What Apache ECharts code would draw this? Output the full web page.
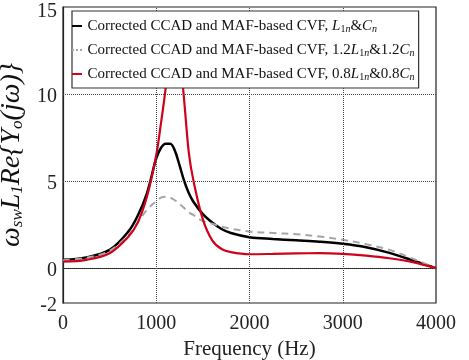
<!DOCTYPE html>
<html>
<head>
<meta charset="utf-8">
<script src="https://cdn.jsdelivr.net/npm/echarts@6/dist/echarts.min.js"></script>
<style>
  html, body { margin: 0; padding: 0; background: #fff; }
  #chart { width: 469px; height: 360px; }
</style>
</head>
<body>
<div id="chart"></div>
<script>
// frequency samples (Hz)
const freqs = [0, 250, 500, 700, 800, 900, 1000, 1050, 1100, 1150, 1200, 1250, 1300, 1350, 1400,
  1500, 1600, 1700, 1800, 2000, 2250, 2500, 2750, 3000, 3250, 3500, 3750, 4000];

// L1n & Cn
const nominal = [0.48, 0.62, 1.05, 2.1, 3.0, 4.3, 6.3, 6.9, 7.15, 7.15, 6.75, 5.9, 5.0, 4.3, 3.8,
  3.1, 2.62, 2.25, 2.02, 1.78, 1.68, 1.6, 1.52, 1.4, 1.2, 0.88, 0.45, 0];

// 1.2 L1n & 1.2 Cn
const scaledUp = [0.45, 0.6, 1.0, 1.9, 2.6, 3.35, 3.85, 4.05, 4.1, 4.05, 3.9, 3.7, 3.45, 3.2, 3.05,
  2.7, 2.55, 2.38, 2.27, 2.1, 2.02, 1.95, 1.82, 1.63, 1.38, 1.05, 0.55, 0];

// 0.8 L1n & 0.8 Cn
const scaledDown = [0.38, 0.48, 0.86, 1.8, 2.6, 4.1, 6.5, 8.3, 10.3, 12.8, 13.8, 12.3, 9.6, 6.6, 5.0,
  2.8, 1.6, 1.1, 0.92, 0.8, 0.82, 0.85, 0.86, 0.82, 0.72, 0.57, 0.35, 0];

const yTicks = [-2, 0, 5, 10, 15];
const gridX = [1000, 2000, 3000];
const gridY = [0, 5, 10];

const names = [
  "Corrected CCAD and MAF-based CVF, L1n&Cn",
  "Corrected CCAD and MAF-based CVF, 1.2L1n&1.2Cn",
  "Corrected CCAD and MAF-based CVF, 0.8L1n&0.8Cn",
];
const legendRich = [
  "Corrected CCAD and MAF-based CVF, {i|L}{s|1}{si|n}&{i|C}{si|n}",
  "Corrected CCAD and MAF-based CVF, 1.2{i|L}{s|1}{si|n}&1.2{i|C}{si|n}",
  "Corrected CCAD and MAF-based CVF, 0.8{i|L}{s|1}{si|n}&0.8{i|C}{si|n}",
];

const pair = (ys) => freqs.map((f, i) => [f, ys[i]]);
const serif = "'Liberation Serif', 'Times New Roman', serif";
const solidIcon = "path://M0,0h10v2h-10z";
const dotIcon = "path://M0,0h2v2h-2zM4,0h2v2h-2zM8,0h2v2h-2z";

const chart = echarts.init(document.getElementById("chart"), null, { renderer: "canvas" });

chart.setOption({
  animation: false,
  backgroundColor: "#fff",
  textStyle: { fontFamily: serif },
  grid: {
    left: 63, right: 33, top: 7, bottom: 57,
    outerBoundsMode: "none",
    containLabel: false,
    show: true, borderColor: "#222", borderWidth: 1.2,
  },
  legend: {
    data: [
      { name: names[0], icon: solidIcon },
      { name: names[1], icon: dotIcon },
      { name: names[2], icon: solidIcon },
    ],
    orient: "vertical",
    left: 72, top: 11,
    padding: [7, 4, 6, 0],
    itemWidth: 11, itemHeight: 2, itemGap: 8,
    backgroundColor: "#fff",
    borderColor: "#333", borderWidth: 1.2,
    z: 10,
    formatter: (name) => legendRich[names.indexOf(name)],
    textStyle: {
      fontFamily: serif, fontSize: 15, color: "#111", lineHeight: 16,
      rich: {
        i: { fontFamily: serif, fontSize: 15, fontStyle: "italic", color: "#111" },
        s: { fontFamily: serif, fontSize: 10, color: "#111", padding: [6, 0, 0, 0] },
        si: { fontFamily: serif, fontSize: 10, fontStyle: "italic", color: "#111", padding: [6, 0, 0, 0] },
      },
    },
  },
  xAxis: {
    type: "value",
    min: 0, max: 4000, interval: 1000,
    name: "Frequency (Hz)",
    nameLocation: "middle", nameGap: 34,
    nameTextStyle: { fontFamily: serif, fontSize: 21, color: "#222" },
    axisLine: { lineStyle: { color: "#222", width: 1.2 } },
    axisTick: { show: false },
    axisLabel: { fontFamily: serif, fontSize: 20, color: "#222", margin: 11, formatter: (v) => String(v) },
    splitLine: { show: false },
  },
  yAxis: {
    type: "value",
    min: -2, max: 15,
    name: "ω{s|sw}L{u|1}Re{Y{s|o}(jω)}",
    nameLocation: "middle", nameRotate: 90, nameGap: 18,
    nameTextStyle: {
      fontFamily: serif, fontSize: 28, fontStyle: "italic", color: "#111",
      rich: {
        s: { fontFamily: serif, fontSize: 17, fontStyle: "italic", color: "#111", padding: [10, 0, 0, 0] },
        u: { fontFamily: serif, fontSize: 17, color: "#111", padding: [10, 0, 0, 0] },
      },
    },
    axisLine: { lineStyle: { color: "#222", width: 1.2 } },
    axisTick: { show: false },
    axisLabel: {
      fontFamily: serif, fontSize: 20, color: "#222", margin: 6, customValues: yTicks,
      formatter: (v) => (v === 15 ? "{t|" + v + "}" : "{a|" + v + "}"),
      rich: {
        a: { fontFamily: serif, fontSize: 20, color: "#222", padding: [5, 0, 0, 0] },
        t: { fontFamily: serif, fontSize: 20, color: "#222", padding: [10, 0, 0, 0] },
      },
    },
    splitLine: { show: false },
  },
  series: [
    {
      name: "grid",
      type: "line",
      data: [],
      z: 1,
      silent: true,
      markLine: {
        silent: true,
        symbol: "none",
        label: { show: false },
        lineStyle: { type: "dotted", color: "#444", width: 1 },
        data: gridY.map((v) => ({ yAxis: v })).concat(gridX.map((v) => ({ xAxis: v }))),
      },
    },
    {
      name: names[0],
      type: "line",
      data: pair(nominal),
      showSymbol: false,
      smooth: 0.35,
      lineStyle: { color: "#000", width: 2.5 },
      itemStyle: { color: "#000" },
    },
    {
      name: names[1],
      type: "line",
      data: pair(scaledUp),
      showSymbol: false,
      smooth: 0.35,
      lineStyle: { color: "#a6a6a6", width: 2, type: [7, 5] },
      itemStyle: { color: "#a6a6a6" },
    },
    {
      name: names[2],
      type: "line",
      data: pair(scaledDown),
      showSymbol: false,
      smooth: 0.35,
      lineStyle: { color: "#d0021b", width: 2.2 },
      itemStyle: { color: "#d0021b" },
    },
  ],
});
</script>
</body>
</html>
